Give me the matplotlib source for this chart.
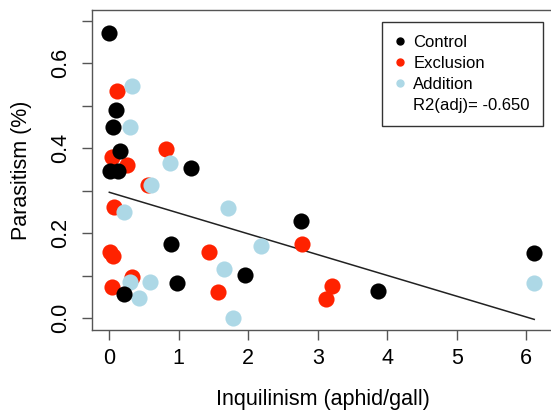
"""Parasitism vs inquilinism scatter with a linear fit line (R-style base plot)."""

import matplotlib
matplotlib.use("Agg")
import matplotlib.pyplot as plt
from matplotlib.lines import Line2D
import numpy as np

plt.rcParams["font.family"] = ["Liberation Sans", "DejaVu Sans"]

# Control (black)
ctrl_x = [0.00, 0.09, 0.06, 0.16, 0.01, 0.12, 1.175, 0.89, 1.95, 0.97, 0.21, 2.754, 3.87, 6.115]
ctrl_y = [0.672, 0.490, 0.451, 0.394, 0.347, 0.347, 0.353, 0.174, 0.102, 0.082, 0.058, 0.229, 0.065, 0.153]

# Exclusion (red)
excl_x = [0.106, 0.816, 0.035, 0.26, 0.55, 0.068, 0.01, 0.06, 1.435, 0.32, 0.04, 1.57, 2.78, 3.21, 3.12]
excl_y = [0.535, 0.398, 0.379, 0.361, 0.314, 0.263, 0.155, 0.147, 0.157, 0.098, 0.074, 0.063, 0.174, 0.077, 0.045]

# Addition (light blue)
addn_x = [0.32, 0.30, 0.873, 0.60, 0.216, 1.71, 2.19, 1.655, 0.30, 0.59, 0.43, 1.775, 6.115]
addn_y = [0.547, 0.451, 0.366, 0.314, 0.249, 0.259, 0.171, 0.116, 0.086, 0.085, 0.048, 0.000, 0.082]

# fitted line
fit_intercept = 0.2965
fit_slope = -0.0489
r2_label = "R2(adj)= -0.650"

fig = plt.figure(figsize=(5.51, 4.15), dpi=100)
ax = fig.add_axes([0.1675, 0.2048, 0.836, 0.7699])

pt_size = 135
ax.scatter(excl_x, excl_y, s=pt_size, color="#ff2200", linewidths=0, zorder=3)
ax.scatter(addn_x, addn_y, s=pt_size, color="#add8e6", linewidths=0, zorder=3)
ax.scatter(ctrl_x, ctrl_y, s=pt_size, color="black", linewidths=0, zorder=3)

all_x = np.array(ctrl_x + excl_x + addn_x)
fx = np.array([all_x.min(), all_x.max()])
ax.plot(fx, fit_intercept + fit_slope * fx, color="#222222", lw=1.1, zorder=2)

ax.set_xlim(-0.245, 6.384)
ax.set_ylim(-0.0275, 0.7242)

ax.set_xticks(range(0, 7))
yt = np.round(np.arange(0, 0.71, 0.1), 1)
ax.set_yticks(yt)
ax.set_yticklabels([f"{v:.1f}" if i % 2 == 0 else "" for i, v in enumerate(yt)],
                   rotation=90, va="center")

ax.tick_params(axis="both", direction="out", length=7, width=1, color="#555555",
               labelsize=15.5)
ax.tick_params(axis="x", pad=6)
ax.tick_params(axis="y", pad=8)
for sp in ax.spines.values():
    sp.set_color("#555555")
    sp.set_linewidth(1)

ax.set_xlabel("Inquilinism (aphid/gall)", fontsize=15.5, labelpad=14)
ax.set_ylabel("Parasitism (%)", fontsize=15.5, labelpad=13)

handles = [
    Line2D([], [], marker="o", ls="", color="black", markersize=5),
    Line2D([], [], marker="o", ls="", color="#ff2200", markersize=5),
    Line2D([], [], marker="o", ls="", color="#add8e6", markersize=5),
    Line2D([], [], marker="", ls=""),
]
labels = ["Control", "Exclusion", "Addition", r2_label]
leg = ax.legend(handles, labels, loc="upper right", bbox_to_anchor=(0.979, 0.965),
                fontsize=12, frameon=True, fancybox=False, framealpha=1,
                handlelength=0.6, handletextpad=0.5, labelspacing=0.35,
                borderpad=0.8, borderaxespad=0)
leg.get_frame().set_edgecolor("#333333")
leg.get_frame().set_linewidth(1)

fig.savefig("out.png", dpi=100)
